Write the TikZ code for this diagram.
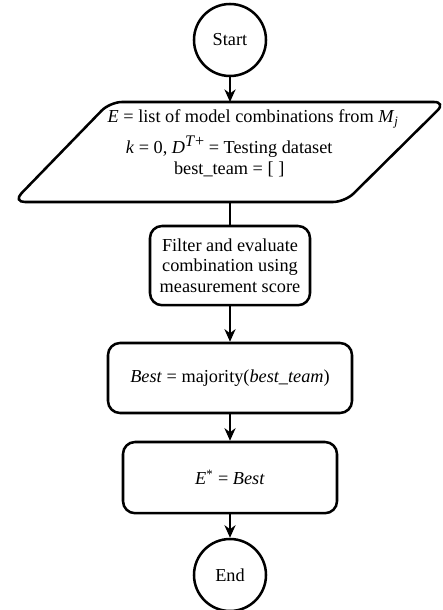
\documentclass[tikz,border=0pt]{standalone}
\usepackage{fontspec}
\setmainfont{Liberation Serif}
\usetikzlibrary{arrows.meta}

\begin{document}
\begin{tikzpicture}[
    font=\fontsize{13}{14.5}\selectfont,
    >={Stealth[length=9pt,width=8pt]},
    terminal/.style={draw, line width=1.8pt, circle, minimum size=1.8cm, inner sep=0pt},
    process/.style={draw, line width=1.8pt, rounded corners=0.3cm, align=center, inner sep=0pt},
    link/.style={line width=1pt}
  ]
    \useasboundingbox (0,0) rectangle (11.05,-15.25);
    \node[terminal] (start) at (5.75,-1.0) {Start}; % start
    \draw[line width=1.8pt, rounded corners=0.3cm] (0.325,-5.05) -- (2.75,-2.55) -- (11.15,-2.55) -- (8.625,-5.05) -- cycle; % input
    \coordinate (input top) at (5.75,-2.55);
    \coordinate (input bottom) at (5.75,-5.05);
    \node[align=center] (input) at (5.73,-3.58) {\hspace*{1.2cm}\textit{E} = list of model combinations from \textit{M}\textsubscript{\textit{j}}\\[5pt]
      \textit{k} = 0, \textit{D}\raisebox{0.85ex}{\fontsize{11.5}{11.5}\selectfont\textit{T}+} = Testing dataset\\
      best\_team = [ ]};
    \node[process, minimum width=4.0cm, minimum height=1.98cm] (filter) at (5.75,-6.64) {Filter and evaluate\\combination using\\measurement score};
    \node[process, minimum width=6.1cm, minimum height=1.75cm] (best) at (5.75,-9.45) {\textit{Best} = majority(\textit{best\_team})};
    \node[process, minimum width=5.35cm, minimum height=1.78cm] (estar) at (5.75,-11.94) {\textit{E}\textsuperscript{*} = \textit{Best}};
    \node[terminal] (end) at (5.75,-14.375) {End}; % end
    \draw[link][->] (start) -- (input top);
    \draw[link] (input bottom) -- (filter);
    \draw[link][->] (filter) -- (best);
    \draw[link][->] (best) -- (estar);
    \draw[link][->] (estar) -- (end);
\end{tikzpicture}
\end{document}
